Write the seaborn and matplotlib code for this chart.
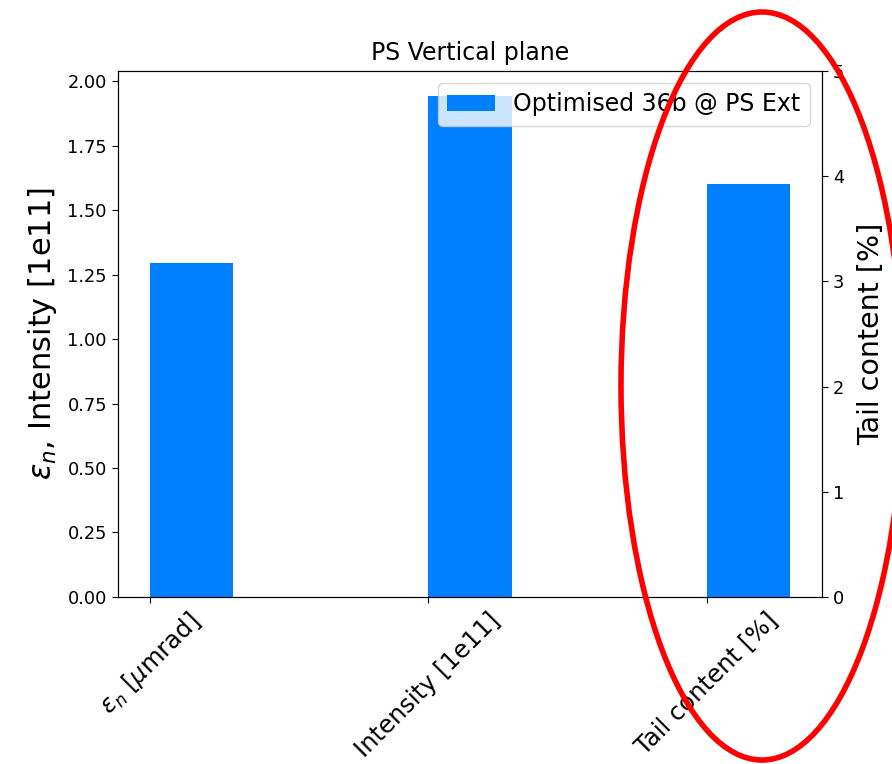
import matplotlib
matplotlib.use("Agg")
import matplotlib.pyplot as plt
from matplotlib.patches import Ellipse
import pandas as pd
import seaborn as sns

# Measured beam quantities at PS extraction (vertical plane)
categories = [r"$\varepsilon_n$ [$\mu$mrad]", "Intensity [1e11]", "Tail content [%]"]
left_values = [1.295, 1.942]      # emittance [um rad], intensity [1e11]
tail_values = [3.93]              # tail content [%]
series_label = "Optimised 36b @ PS Ext"
bar_color = "#0080ff"

plt.rcParams["font.family"] = ["DejaVu Sans"]

fig = plt.figure(figsize=(8.92, 7.64), dpi=100)
ax = fig.add_axes([0.1323, 0.2186, 0.7892, 0.6885])
ax2 = ax.twinx()

df_left = pd.DataFrame({"quantity": categories[:2], "value": left_values})
df_tail = pd.DataFrame({"quantity": categories[2:], "value": tail_values})

sns.barplot(data=df_left, x="quantity", y="value", order=categories, width=0.3,
            color=bar_color, saturation=1, label=series_label, ax=ax)
sns.barplot(data=df_tail, x="quantity", y="value", order=categories, width=0.3,
            color=bar_color, saturation=1, ax=ax2)
if ax.get_legend() is not None:
    ax.get_legend().remove()

ax.tick_params(labelsize=12.8, length=4.5)
ax2.tick_params(labelsize=12.8, length=4.5)

# ticks sit on the left edge of each bar
pos = [i - 0.15 for i in range(len(categories))]
ax.set_xticks(pos)
ax.set_xticklabels(categories, rotation=45, ha="center", fontsize=17.5)
ax.set_xlim(-0.265, 2.265)
ax.set_ylim(0, 1.942 * 1.05)
ax2.set_ylim(0, 5)
ax.set_xlabel("")
ax.set_ylabel(r"$\varepsilon_n$, Intensity [1e11]", fontsize=22, labelpad=6)
ax2.set_ylabel("Tail content [%]", fontsize=20.5, labelpad=9)
ax2.set_xlabel("")
ax.set_title("PS Vertical plane", fontsize=17, pad=8)

handles, labels = ax.get_legend_handles_labels()
ax2.legend(handles, labels, loc="upper right", fontsize=17)

# highlight around the tail-content axis
W, H = fig.bbox.width, fig.bbox.height
ring = Ellipse((762 / W, 1 - 386 / H), width=282 / W, height=748 / H,
               transform=fig.transFigure, fill=False, edgecolor="red",
               linewidth=4, clip_on=False)
fig.patches.append(ring)

fig.savefig("out.png", dpi=100)
